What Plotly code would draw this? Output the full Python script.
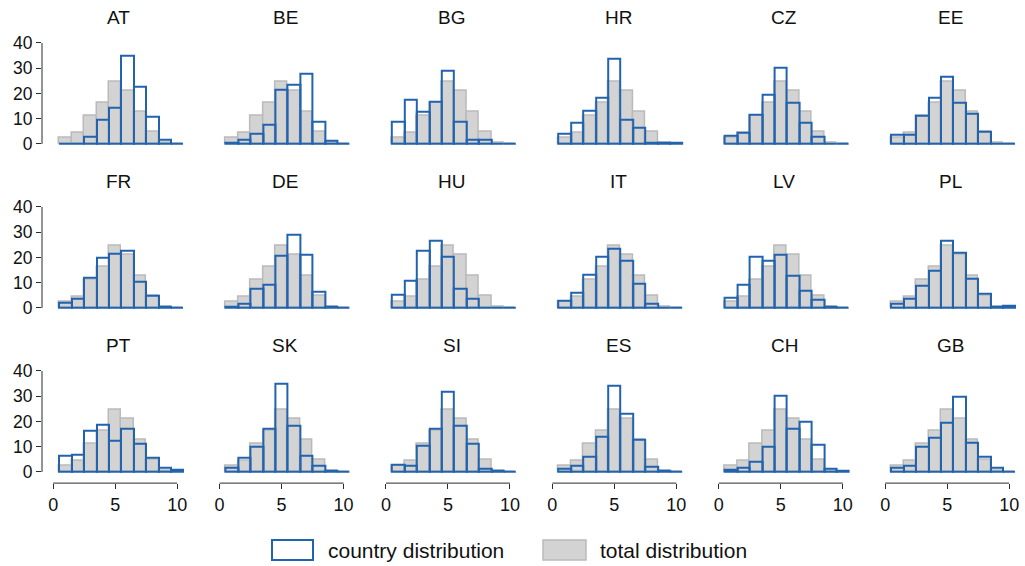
import plotly.graph_objects as go

# Country panels, in reading order (3 rows x 6 columns)
countries = ["AT", "BE", "BG", "HR", "CZ", "EE",
             "FR", "DE", "HU", "IT", "LV", "PL",
             "PT", "SK", "SI", "ES", "CH", "GB"]

# Score bins (centres), width 1
bins = [1, 2, 3, 4, 5, 6, 7, 8, 9, 10]

# Share of respondents (%) in each bin for the pooled sample
total_dist = [2.6, 4.5, 11.0, 16.5, 24.8, 20.9, 12.6, 5.0, 0.7, 0.3]

# Share of respondents (%) in each bin, per country
at = [0.2, 0.2, 2.9, 9.8, 14.4, 35.0, 22.7, 10.7, 1.5, 0.2]
be = [0.4, 1.5, 4.1, 7.5, 21.6, 23.6, 27.9, 8.7, 1.2, 0.1]
bg = [8.8, 17.6, 12.9, 16.8, 29.0, 8.8, 1.5, 1.8, 0, 0]
hr = [4.0, 8.6, 13.1, 18.3, 33.7, 9.5, 6.3, 0.7, 0.7, 0.7]
cz = [3.3, 4.6, 11.7, 19.4, 30.2, 16.2, 8.6, 3.0, 0.3, 0.1]
ee = [3.6, 3.6, 11.0, 18.5, 26.7, 16.4, 12.0, 4.8, 0.3, 0.1]
fr = [1.9, 3.7, 12.1, 20.1, 21.5, 22.7, 10.3, 4.9, 0.5, 0.2]
de = [0.4, 1.6, 7.7, 9.4, 20.7, 29.2, 20.9, 6.5, 0.7, 0.1]
hu = [5.3, 10.7, 22.6, 26.7, 20.5, 7.7, 3.7, 0.3, 0, 0]
it = [2.9, 6.1, 13.2, 20.3, 23.4, 18.9, 9.6, 1.8, 0.2, 0.2]
lv = [4.0, 9.1, 20.3, 18.9, 20.9, 12.7, 6.9, 3.4, 0.5, 0]
pl = [1.6, 3.7, 9.0, 14.7, 26.8, 22.0, 11.6, 5.8, 0.7, 0.9]
pt = [6.3, 7.0, 16.4, 18.9, 12.5, 17.0, 11.2, 5.5, 1.5, 0.8]
sk = [1.5, 5.5, 10.0, 17.2, 34.9, 18.4, 6.3, 2.6, 0.4, 0.1]
si = [2.8, 2.4, 10.6, 17.2, 31.9, 18.5, 11.2, 1.3, 0.6, 0.3]
es = [1.1, 2.6, 6.2, 14.1, 34.2, 23.2, 12.9, 2.0, 0.6, 0.3]
ch = [1.0, 1.5, 4.0, 10.2, 30.1, 17.2, 19.9, 10.7, 1.2, 0.6]
gb = [1.8, 2.5, 10.0, 13.7, 19.5, 29.7, 11.5, 5.9, 1.6, 0.1]

country_dist = [at, be, bg, hr, cz, ee, fr, de, hu, it, lv, pl,
                pt, sk, si, es, ch, gb]

y_ticks = [0, 10, 20, 30, 40]
x_ticks = [0, 5, 10]

W, H = 1025, 566
BLUE = "#2263ae"
GRAY_FILL = "#d3d3d3"
GRAY_LINE = "#bababa"
AXIS = "#2b2b2b"
TEXT = "#111111"
FONT = "Liberation Sans, Arial, sans-serif"

X_RANGE = [-0.9, 10.6]
Y_RANGE = [-4.4, 40.5]
PX_X = 12.4      # pixels per x unit
PX_Y = 2.525     # pixels per y unit
COL_STEP = 166.4
ROW_STEP = 164.0
LEFT0 = 42.0
BASE0 = 144.0

fig = go.Figure()
layout = dict(
    template="none",
    width=W, height=H,
    margin=dict(l=0, r=0, t=0, b=0, pad=0, autoexpand=False),
    paper_bgcolor="white", plot_bgcolor="white",
    barmode="overlay", bargap=0,
    showlegend=False,
    font=dict(family=FONT, color=TEXT),
)
shapes = []
annotations = []

for i, (name, vals) in enumerate(zip(countries, country_dist)):
    r, c = divmod(i, 6)
    n = i + 1
    sfx = "" if n == 1 else str(n)
    xa, ya = "x" + sfx, "y" + sfx

    left = LEFT0 + c * COL_STEP
    right = left + (X_RANGE[1] - X_RANGE[0]) * PX_X
    base = BASE0 + r * ROW_STEP
    top = base - Y_RANGE[1] * PX_Y
    bottom = base - Y_RANGE[0] * PX_Y

    fig.add_trace(go.Bar(
        x=bins, y=total_dist, width=1, xaxis=xa, yaxis=ya,
        marker=dict(color=GRAY_FILL, line=dict(color=GRAY_LINE, width=1.5)),
        name="total distribution", hoverinfo="skip",
    ))
    fig.add_trace(go.Bar(
        x=bins, y=vals, width=1, xaxis=xa, yaxis=ya,
        marker=dict(color="rgba(0,0,0,0)", line=dict(color=BLUE, width=2)),
        name="country distribution",
    ))

    bottom_row = r == 2
    first_col = c == 0
    layout["xaxis" + sfx] = dict(
        domain=[left / W, right / W], range=X_RANGE, anchor=ya,
        automargin=False,
        showgrid=False, zeroline=False, showline=False,
        tickmode="array", tickvals=x_ticks,
        ticks="outside" if bottom_row else "", ticklen=5, tickwidth=1,
        tickcolor=AXIS,
        showticklabels=bottom_row, tickfont=dict(size=18, family=FONT, color=TEXT),
        fixedrange=True,
    )
    layout["yaxis" + sfx] = dict(
        domain=[1 - bottom / H, 1 - top / H], range=Y_RANGE, anchor=xa,
        automargin=False,
        showgrid=False, zeroline=False, showline=False,
        tickmode="array", tickvals=y_ticks,
        ticks="outside" if first_col else "", ticklen=5, tickwidth=1,
        tickcolor=AXIS,
        showticklabels=first_col, tickfont=dict(size=17.5, family=FONT, color=TEXT),
        fixedrange=True,
    )

    if first_col:
        shapes.append(dict(type="line", xref=xa + " domain", yref=ya,
                           x0=0, x1=0, y0=0, y1=40,
                           line=dict(color=AXIS, width=1)))
    if bottom_row:
        shapes.append(dict(type="line", xref=xa, yref=ya + " domain",
                           x0=0, x1=10, y0=0, y1=0,
                           line=dict(color=AXIS, width=1)))

    annotations.append(dict(
        text=name, xref=xa, yref="paper", x=5.3,
        y=1 - (17.5 + r * ROW_STEP) / H, yanchor="middle",
        showarrow=False, font=dict(size=19, family=FONT, color=TEXT),
    ))

# Legend drawn as boxes with labels beneath the panels
LEG_TOP, LEG_BOT = 540, 560
shapes.append(dict(type="rect", xref="paper", yref="paper",
                   x0=272 / W, x1=313 / W, y0=1 - LEG_BOT / H, y1=1 - LEG_TOP / H,
                   fillcolor="white", line=dict(color=BLUE, width=2)))
shapes.append(dict(type="rect", xref="paper", yref="paper",
                   x0=543 / W, x1=586 / W, y0=1 - LEG_BOT / H, y1=1 - LEG_TOP / H,
                   fillcolor=GRAY_FILL, line=dict(color=GRAY_LINE, width=1.5)))
annotations.append(dict(text="country distribution", xref="paper", yref="paper",
                        x=326 / W, y=1 - 550 / H, xanchor="left", yanchor="middle",
                        showarrow=False, font=dict(size=21, family=FONT, color=TEXT)))
annotations.append(dict(text="total distribution", xref="paper", yref="paper",
                        x=598 / W, y=1 - 550 / H, xanchor="left", yanchor="middle",
                        showarrow=False, font=dict(size=21, family=FONT, color=TEXT)))

layout["shapes"] = shapes
layout["annotations"] = annotations
fig.update_layout(**layout)

fig.write_html("out.html")
